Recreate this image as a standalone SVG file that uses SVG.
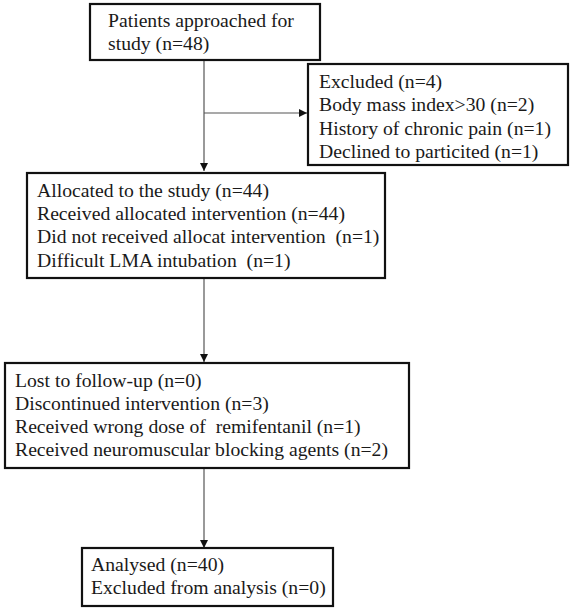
<svg xmlns="http://www.w3.org/2000/svg" width="574" height="611" viewBox="0 0 574 611">
<defs>
<style>
.box{fill:#fff;stroke:#111;stroke-width:2.2}
.t{font-family:"Liberation Serif","Times New Roman",serif;font-size:19.7px;fill:#1a1a1a}
.c{stroke:#555;stroke-width:1.2;fill:none}
</style>
<marker id="ah" viewBox="0 0 10 10" refX="10" refY="5" markerWidth="8" markerHeight="8" markerUnits="userSpaceOnUse" orient="auto">
<path d="M0,0 L10,5 L0,10 z" fill="#111"/>
</marker>
</defs>
<rect width="574" height="611" fill="#fff"/>
<g id="connectors">
<line class="c" x1="204" y1="60" x2="204" y2="171" marker-end="url(#ah)"/>
<line class="c" x1="204" y1="113" x2="307" y2="113" marker-end="url(#ah)"/>
<line class="c" x1="204" y1="278" x2="204" y2="362" marker-end="url(#ah)"/>
<line class="c" x1="204" y1="468" x2="204" y2="548" marker-end="url(#ah)"/>
</g>
<g id="n1">
<rect class="box" x="90" y="4" width="230" height="56"/>
<text class="t" x="108" y="27">Patients approached for</text>
<text class="t" x="108" y="50">study (n=48)</text>
</g>
<g id="n2">
<rect class="box" x="308" y="64" width="260" height="101"/>
<text class="t" x="319" y="88">Excluded (n=4)</text>
<text class="t" x="319" y="111">Body mass index&gt;30 (n=2)</text>
<text class="t" x="319" y="135">History of chronic pain (n=1)</text>
<text class="t" x="319" y="158">Declined to particited (n=1)</text>
</g>
<g id="n3">
<rect class="box" x="27" y="173" width="358" height="105"/>
<text class="t" x="37" y="197">Allocated to the study (n=44)</text>
<text class="t" x="37" y="220">Received allocated intervention (n=44)</text>
<text class="t" x="37" y="243" xml:space="preserve">Did not received allocat intervention  (n=1)</text>
<text class="t" x="37" y="267" xml:space="preserve">Difficult LMA intubation  (n=1)</text>
</g>
<g id="n4">
<rect class="box" x="5" y="363" width="404" height="105"/>
<text class="t" x="15" y="387">Lost to follow-up (n=0)</text>
<text class="t" x="15" y="410">Discontinued intervention (n=3)</text>
<text class="t" x="15" y="433" xml:space="preserve">Received wrong dose of  remifentanil (n=1)</text>
<text class="t" x="15" y="456">Received neuromuscular blocking agents (n=2)</text>
</g>
<g id="n5">
<rect class="box" x="82" y="548" width="251" height="58"/>
<text class="t" x="91" y="571">Analysed (n=40)</text>
<text class="t" x="91" y="594">Excluded from analysis (n=0)</text>
</g>
</svg>
